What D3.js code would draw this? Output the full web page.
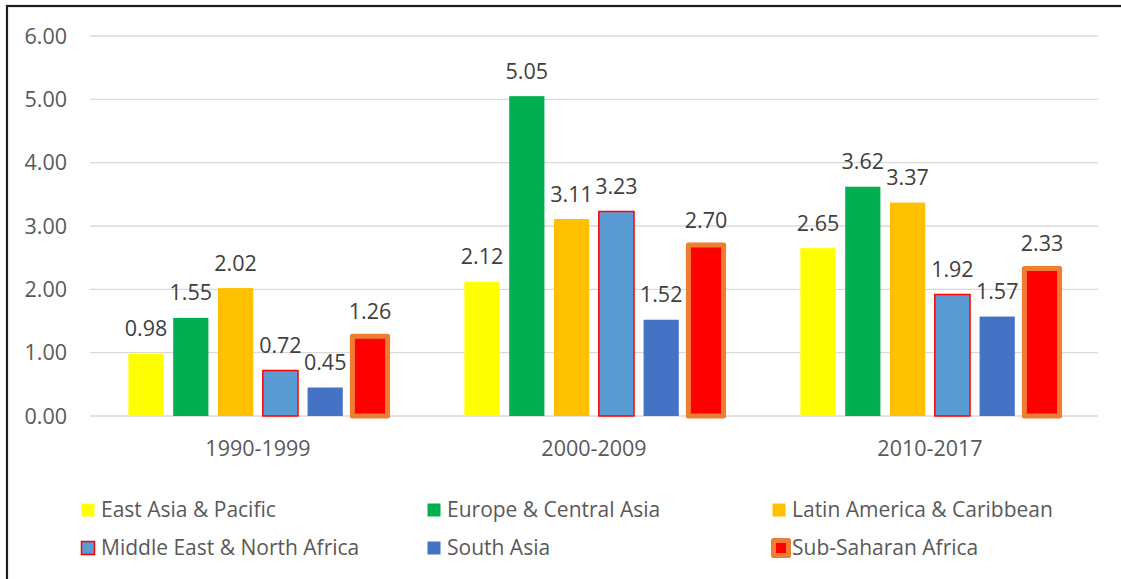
<!DOCTYPE html>
<html>
<head>
<meta charset="utf-8">
<script src="https://cdn.jsdelivr.net/npm/d3@7"></script>
<style>
  html, body { margin: 0; padding: 0; background: #fff; }
  svg { display: block; }
  text { font-family: "Open Sans", "Noto Sans", sans-serif; }
</style>
</head>
<body>
<svg id="chart" width="1121" height="579"></svg>
<script>
// Decades shown on the x axis
const periods = ["1990-1999", "2000-2009", "2010-2017"];

// Regions (one bar each per decade)
const regions = [
  "East Asia & Pacific",
  "Europe & Central Asia",
  "Latin America & Caribbean",
  "Middle East & North Africa",
  "South Asia",
  "Sub-Saharan Africa"
];

// Values per region, in decade order
const eastAsiaPacific      = [0.98, 2.12, 2.65];
const europeCentralAsia    = [1.55, 5.05, 3.62];
const latinAmericaCaribbean= [2.02, 3.11, 3.37];
const middleEastNorthAfrica= [0.72, 3.23, 1.92];
const southAsia            = [0.45, 1.52, 1.57];
const subSaharanAfrica     = [1.26, 2.70, 2.33];

const yTicks = [0, 1, 2, 3, 4, 5, 6];

const seriesValues = [
  eastAsiaPacific, europeCentralAsia, latinAmericaCaribbean,
  middleEastNorthAfrica, southAsia, subSaharanAfrica
];

// Bar styling per region
const styles = [
  { fill: "#ffff00", stroke: "none", sw: 0 },
  { fill: "#00b050", stroke: "none", sw: 0 },
  { fill: "#ffc000", stroke: "none", sw: 0 },
  { fill: "#5b9bd5", stroke: "#ff0000", sw: 1.5 },
  { fill: "#4472c4", stroke: "none", sw: 0 },
  { fill: "#ff0000", stroke: "#ed7d31", sw: 5 }
];

const svg = d3.select("#chart");

// Outer chart frame
svg.append("rect")
  .attr("x", 7).attr("y", 6)
  .attr("width", 1300).attr("height", 800)
  .attr("fill", "none").attr("stroke", "#1c1c1c").attr("stroke-width", 2.2);

const plot = { left: 90, right: 1098, top: 36, bottom: 416 };

const y = d3.scaleLinear().domain([0, 6]).range([plot.bottom, plot.top]);
const x0 = d3.scaleBand().domain(periods).range([plot.left, plot.right]);
const x1 = d3.scaleBand().domain(d3.range(regions.length))
  .range([0, x0.bandwidth()]).paddingInner(0.214).paddingOuter(0.857);

// Gridlines
svg.append("g").selectAll("line").data(yTicks).join("line")
  .attr("x1", plot.left).attr("x2", plot.right)
  .attr("y1", d => y(d)).attr("y2", d => y(d))
  .attr("stroke", "#d9d9d9").attr("stroke-width", 1.3);

// Y tick labels
svg.append("g").selectAll("text").data(yTicks).join("text")
  .attr("x", 67).attr("y", d => y(d))
  .attr("dy", "0.35em")
  .attr("text-anchor", "end")
  .attr("fill", "#595959")
  .attr("font-size", 21.5)
  .text(d => d3.format(".2f")(d));

// Bars
const rows = [];
periods.forEach((p, pi) => {
  seriesValues.forEach((vals, si) => rows.push({ period: p, si, v: vals[pi] }));
});

const bars = svg.append("g");
bars.selectAll("rect").data(rows).join("rect")
  .attr("x", d => x0(d.period) + x1(d.si))
  .attr("y", d => y(d.v))
  .attr("width", x1.bandwidth())
  .attr("height", d => y(0) - y(d.v))
  .attr("fill", d => styles[d.si].fill)
  .attr("stroke", d => styles[d.si].stroke)
  .attr("stroke-width", d => styles[d.si].sw)
  .attr("stroke-linejoin", "round");

// Value labels
svg.append("g").selectAll("text").data(rows).join("text")
  .attr("x", d => x0(d.period) + x1(d.si) + x1.bandwidth() / 2)
  .attr("y", d => y(d.v) - 17.5)
  .attr("text-anchor", "middle")
  .attr("fill", "#404040")
  .attr("font-size", 21.5)
  .text(d => d3.format(".2f")(d.v));

// Category labels
svg.append("g").selectAll("text").data(periods).join("text")
  .attr("x", d => x0(d) + x0.bandwidth() / 2)
  .attr("y", 448)
  .attr("dy", "0.35em")
  .attr("text-anchor", "middle")
  .attr("fill", "#595959")
  .attr("font-size", 21.5)
  .text(d => d);

// Legend: three columns, two rows
const legendCols = [81, 427, 772];
const legendRows = [510, 548];
const legend = svg.append("g").selectAll("g").data(regions).join("g")
  .attr("transform", (d, i) => `translate(${legendCols[i % 3]},${legendRows[Math.floor(i / 3)]})`);

legend.each(function(d, i) {
  const g = d3.select(this);
  const st = styles[i];
  if (i === 5) {
    g.append("rect").attr("x", 1.5).attr("y", -7.5).attr("width", 15).attr("height", 15)
      .attr("fill", st.fill).attr("stroke", st.stroke).attr("stroke-width", 5)
      .attr("stroke-linejoin", "round");
  } else {
    g.append("rect").attr("x", 0.5).attr("y", -6.5).attr("width", 13).attr("height", 13)
      .attr("fill", st.fill)
      .attr("stroke", st.stroke).attr("stroke-width", st.sw);
  }
  g.append("text")
    .attr("x", 20)
    .attr("y", 0)
    .attr("dy", "0.35em")
    .attr("fill", "#595959")
    .attr("font-size", 21)
    .text(d);
});
</script>
</body>
</html>
